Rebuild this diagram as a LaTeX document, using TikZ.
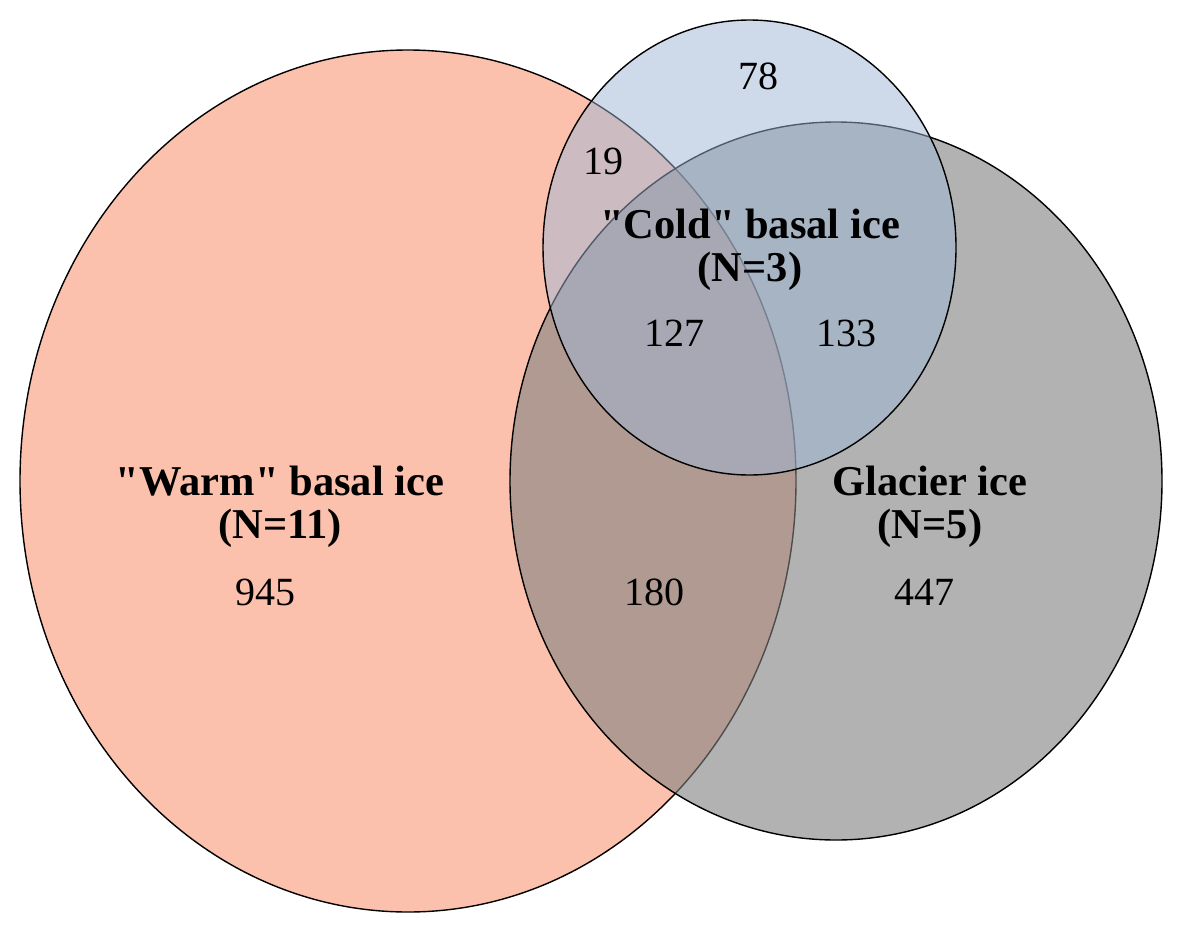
\documentclass[tikz,border=0pt]{standalone}
\usepackage{fontspec}
\setmainfont{Liberation Serif}[Ligatures=TeXOff]
\begin{document}
\begin{tikzpicture}[x=1pt,y=-1pt,
  setshape/.style={draw=black, line width=1.4pt},
  numlabel/.style={font=\fontsize{40}{43}\selectfont, inner sep=0pt, anchor=base},
  setlabel/.style={font=\fontsize{42.5}{43}\selectfont\bfseries, inner sep=0pt, align=center, anchor=base}]
\definecolor{warmc}{RGB}{252,193,172}
\definecolor{glacc}{RGB}{128,128,128}
\definecolor{coldc}{RGB}{158,182,214}
\useasboundingbox (0,0) rectangle (1180,932);
\fill[white] (0,0) rectangle (1180,932);
% sets
\draw[setshape, fill=warmc] (408,481) ellipse [x radius=388, y radius=431];
\draw[setshape, fill=glacc, fill opacity=0.6] (836,481) ellipse [x radius=326, y radius=359];
\draw[setshape, fill=coldc, fill opacity=0.5] (749.5,247.5) ellipse [x radius=206.5, y radius=227.5];
% labels
\node[setlabel] (warm) at (280,538) {"Warm" basal ice\\(N=11)};
\node[setlabel] (cold) at (750,281) {"Cold" basal ice\\(N=3)};
\node[setlabel] (glac) at (930,538) {Glacier ice\\(N=5)};
\node[numlabel] (n78) at (758,89) {78};
\node[numlabel] (n19) at (603,174) {19};
\node[numlabel] (n127) at (674,346) {127};
\node[numlabel] (n133) at (846,346) {133};
\node[numlabel] (n945) at (265,605) {945};
\node[numlabel] (n180) at (654,605) {180};
\node[numlabel] (n447) at (924,605) {447};
\end{tikzpicture}
\end{document}
